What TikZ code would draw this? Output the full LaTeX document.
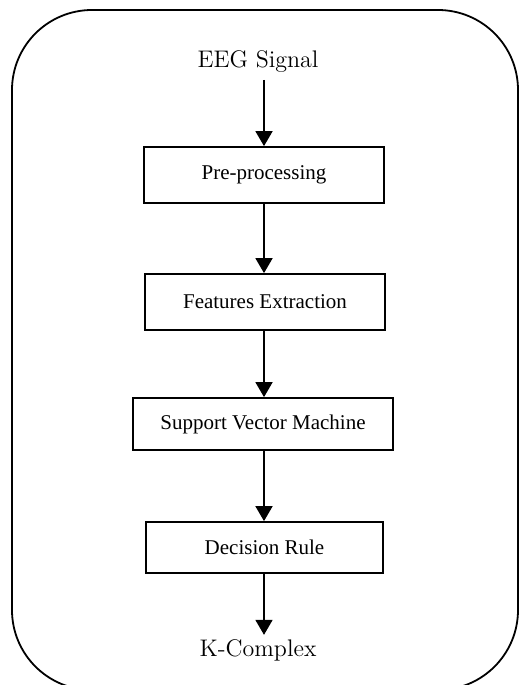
\documentclass[tikz,border=0pt]{standalone}
\usepackage{fontspec}
\newfontfamily\boxfont{Liberation Serif}
\usetikzlibrary{arrows.meta}
\begin{document}
\begin{tikzpicture}[x=0.5pt,y=-0.5pt,
  blk/.style={draw,line width=0.9pt,inner sep=0pt,
    font=\boxfont\fontsize{10.5}{12}\selectfont},
  lbl/.style={font=\fontsize{12}{14}\selectfont},
  flow/.style={line width=0.9pt,-{Triangle[width=8.5pt,length=7.5pt]}}]
\useasboundingbox (0,0) rectangle (521,685);
\draw[line width=0.9pt,rounded corners=40pt] (12,10) rectangle (518,690);
\node[lbl] (eeg) at (258,62) {EEG Signal};
\node[blk,minimum width=120pt,minimum height=28pt] (pre) at (264,175) {Pre-processing};
\node[blk,minimum width=120pt,minimum height=28pt] (feat) at (265,302) {Features Extraction};
\node[blk,minimum width=130pt,minimum height=26pt] (svm) at (263,424) {Support Vector Machine};
\node[blk,minimum width=118.5pt,minimum height=25.5pt] (rule) at (264.5,547.5) {Decision Rule};
\node[lbl,inner sep=2pt] (kc) at (258,650) {K-Complex};
\draw[flow] (pre.north |- eeg.south) -- (pre.north);
\draw[flow] (pre.south) -- (pre.south |- feat.north);
\draw[flow] (pre.south |- feat.south) -- (pre.south |- svm.north);
\draw[flow] (pre.south |- svm.south) -- (pre.south |- rule.north);
\draw[flow] (pre.south |- rule.south) -- (pre.south |- kc.north);
\end{tikzpicture}
\end{document}
